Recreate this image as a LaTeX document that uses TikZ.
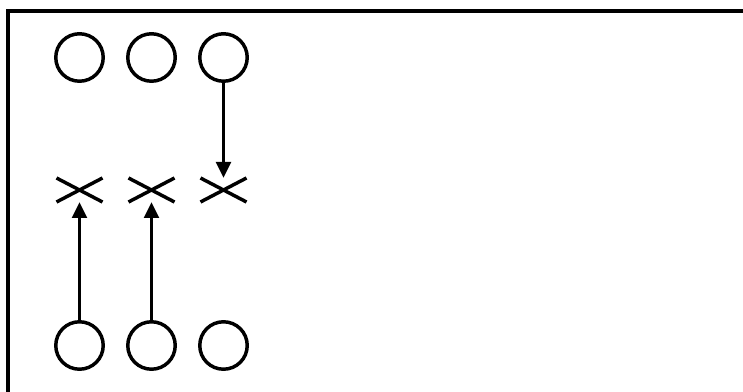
\documentclass[tikz,border=0pt]{standalone}
\usetikzlibrary{shapes.misc,arrows.meta}
\begin{document}
\begin{tikzpicture}[x=0.75pt,y=-0.75pt,
  ring/.style={circle,draw,line width=2.6pt,minimum size=35.6pt,inner sep=0pt,outer sep=0pt},
  xmark/.style={cross out,draw,line width=2.6pt,minimum width=34.5pt,minimum height=18pt,inner sep=0pt,outer sep=0pt},
  link/.style={line width=2.6pt,-{Triangle[length=12pt,width=11pt]}}]
\useasboundingbox (0,0) rectangle (743,392);
\clip (0,0) rectangle (743,392);
\draw[line width=2.8pt] (8,11) rectangle (780,420);
\node[ring] (t1) at (79.5,57.5) {};
\node[ring] (t2) at (151.5,57.5) {};
\node[ring] (t3) at (223.5,57.5) {};
\node[xmark] (x1) at (79.5,190) {};
\node[xmark] (x2) at (151.5,190) {};
\node[xmark] (x3) at (223.5,190) {};
\node[ring] (b1) at (79.5,345.5) {};
\node[ring] (b2) at (151.5,345.5) {};
\node[ring] (b3) at (223.5,345.5) {};
\draw[link] (t3.south) -- (x3.north);
\draw[link] (b1.north) -- (x1.south);
\draw[link] (b2.north) -- (x2.south);
\end{tikzpicture}
\end{document}
